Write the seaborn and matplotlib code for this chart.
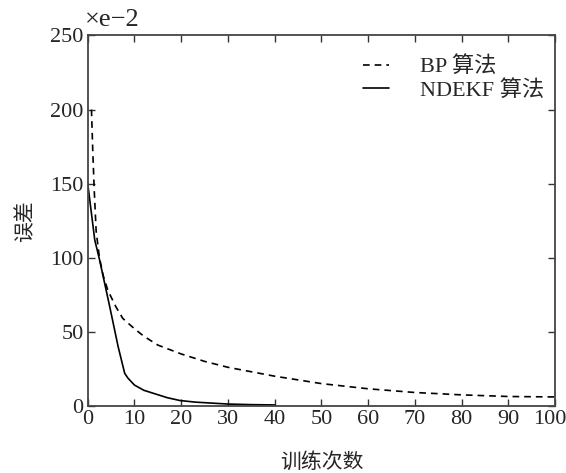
import matplotlib
matplotlib.use("Agg")
import matplotlib.pyplot as plt
import matplotlib.transforms as mtransforms
import seaborn as sns
import pandas as pd

# BP algorithm error (x1e-2)
bp_x = [0.8, 1.1, 1.4, 1.8, 2.5, 3.3, 4.3, 6.0, 7.5, 10, 12, 15, 20, 25, 30, 35, 40,
        47, 50, 60, 70, 80, 90, 100]
bp_y = [200, 170, 145, 118, 100, 88, 78, 67, 59, 52, 47, 41, 35, 30, 26, 23, 20,
        16.5, 15, 11.5, 9, 7.4, 6.3, 6]

# NDEKF algorithm error (x1e-2)
nd_x = [0, 1.5, 2.5, 4.7, 6.5, 7.9, 8.6, 10, 12, 14, 17, 19.7, 23, 26.8, 30, 35, 40]
nd_y = [150, 112, 99, 67, 40, 22, 18.7, 14, 10.5, 8.5, 5.5, 3.6, 2.5, 1.8, 1.2, 0.8, 0.6]

x_ticks = [0, 10, 20, 30, 40, 50, 60, 70, 80, 90, 100]
y_ticks = [0, 50, 100, 150, 200, 250]

df = pd.concat([
    pd.DataFrame({"x": bp_x, "y": bp_y, "算法": "BP 算法"}),
    pd.DataFrame({"x": nd_x, "y": nd_y, "算法": "NDEKF 算法"}),
])

sns.set_style("ticks")
plt.rcParams["font.family"] = ["Liberation Serif", "Noto Sans CJK SC"]
plt.rcParams["axes.unicode_minus"] = True

fig, ax = plt.subplots(figsize=(5.66, 4.73), dpi=100)
fig.subplots_adjust(left=0.155, right=0.981, top=0.925, bottom=0.142)

sns.lineplot(data=df, x="x", y="y", hue="算法", style="算法",
             palette=["black", "black"], dashes=[(4, 3), ""],
             linewidth=1.2, sort=False, estimator=None, ax=ax)

ax.set_xlim(0, 100)
ax.set_ylim(0, 250)
ax.set_xticks(x_ticks)
ax.set_yticks(y_ticks)
ax.tick_params(direction="in", top=True, right=True, length=5, width=1,
               labelsize=16, color="#333333", pad=3)
for s in ax.spines.values():
    s.set_color("#444444")
    s.set_linewidth(1.3)

# nudge the last x tick label so it stays inside the figure
last = ax.get_xticklabels()[-1]
last.set_transform(last.get_transform() +
                   mtransforms.ScaledTranslation(-5 / 100, 0, fig.dpi_scale_trans))

ax.set_xlabel("训练次数", fontsize=15, labelpad=17)
ax.set_ylabel("误差", fontsize=15, labelpad=10)
ax.text(-0.005, 1.012, "×e−2", transform=ax.transAxes, fontsize=19,
        ha="left", va="bottom")

leg = ax.legend(loc="upper right", frameon=False, fontsize=16,
                handlelength=1.2, handletextpad=1.4, labelspacing=0.1,
                bbox_to_anchor=(1.02, 0.997))

fig.savefig("out.png", dpi=100)
